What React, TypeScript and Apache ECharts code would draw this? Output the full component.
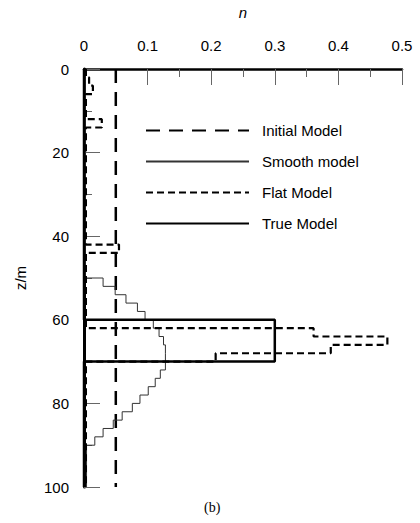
import React, { useEffect, useRef } from "react";
import * as echarts from "echarts";

// Refractive-index style profiles n(z): each model is a stack of layers,
// given as layer top depths (m) and the value of n inside that layer.
const DEPTH_MAX = 100;

const initialTops = [0];
const initialN = [0.05];

const smoothTops = [0, 50, 52, 54, 56, 58, 60, 62, 64, 66, 68, 70, 72, 74, 76, 78, 80, 82, 84, 86, 88, 90];
const smoothN = [0.002, 0.03, 0.049, 0.066, 0.084, 0.096, 0.109, 0.118, 0.125, 0.128, 0.128, 0.128, 0.12, 0.112, 0.101, 0.088, 0.076, 0.06, 0.046, 0.03, 0.017, 0.004];

const flatTops = [0, 2, 4, 6, 12, 14, 42, 44, 62, 64, 66, 68, 70];
const flatN = [0.003, 0.008, 0.014, 0.003, 0.028, 0.003, 0.055, 0.003, 0.361, 0.477, 0.388, 0.207, 0.003];

const trueTops = [0, 60, 70];
const trueN = [0, 0.3, 0];

const xTicks = [0, 0.5];
const yTicks = [0, DEPTH_MAX];

const legendNames = ["Initial Model", "Smooth model", "Flat Model", "True Model"];

// Turn a layer stack into the corner points of a staircase profile.
function layersToPath(tops: number[], values: number[]): number[][] {
  const pts: number[][] = [];
  for (let i = 0; i < tops.length; i++) {
    const bottom = i + 1 < tops.length ? tops[i + 1] : DEPTH_MAX;
    pts.push([values[i], tops[i]]);
    pts.push([values[i], bottom]);
  }
  return pts;
}

const FONT = "'Liberation Sans', Arial, sans-serif";

export default function App() {
  const ref = useRef<HTMLDivElement>(null);

  useEffect(() => {
    if (!ref.current) return;
    const chart = echarts.init(ref.current, undefined, { renderer: "svg" });

    const lineSeries = (name: string, data: number[][], lineStyle: any, z: number) => ({
      name,
      type: "line",
      data,
      symbol: "none",
      showSymbol: false,
      itemStyle: { color: lineStyle.color },
      lineStyle,
      z,
      clip: false,
    });

    chart.setOption({
      animation: false,
      backgroundColor: "#ffffff",
      grid: { left: 84, top: 61, width: 318, height: 426, containLabel: false },
      xAxis: {
        type: "value",
        position: "top",
        min: xTicks[0],
        max: xTicks[1],
        interval: 0.1,
        name: "n",
        nameLocation: "middle",
        nameGap: 49,
        nameTextStyle: { fontFamily: FONT, fontSize: 15, fontStyle: "italic", color: "#000" },
        axisLine: { show: true, onZero: false, lineStyle: { color: "#000", width: 2.5 } },
        axisTick: { show: true, inside: true, length: 16, lineStyle: { color: "#666", width: 1 } },
        minorTick: { show: true, splitNumber: 2, length: 8, lineStyle: { color: "#666", width: 1 } },
        axisLabel: { fontFamily: FONT, fontSize: 15, color: "#000", margin: 16 },
        splitLine: { show: false },
      },
      yAxis: {
        type: "value",
        inverse: true,
        min: yTicks[0],
        max: yTicks[1],
        interval: 20,
        name: "z/m",
        nameLocation: "middle",
        nameGap: 56,
        nameRotate: 90,
        nameTextStyle: { fontFamily: FONT, fontSize: 15, color: "#000" },
        axisLine: { show: true, onZero: false, lineStyle: { color: "#000", width: 3 } },
        axisTick: { show: true, inside: true, length: 16, lineStyle: { color: "#666", width: 1 } },
        minorTick: { show: true, splitNumber: 2, length: 8, lineStyle: { color: "#666", width: 1 } },
        axisLabel: { fontFamily: FONT, fontSize: 15, color: "#000", margin: 15 },
        splitLine: { show: false },
      },
      legend: {
        data: legendNames,
        orient: "vertical",
        left: 145,
        top: 123,
        itemWidth: 103,
        itemHeight: 14,
        itemGap: 16,
        padding: 0,
        itemStyle: { opacity: 0 },
        textStyle: { fontFamily: FONT, fontSize: 15, color: "#000", padding: [0, 0, 0, 8] },
      },
      series: [
        lineSeries(legendNames[0], layersToPath(initialTops, initialN), { color: "#000", width: 2.5, type: [14, 9] }, 2),
        lineSeries(legendNames[1], layersToPath(smoothTops, smoothN), { color: "#333", width: 1 }, 3),
        lineSeries(legendNames[2], layersToPath(flatTops, flatN), { color: "#000", width: 2.2, type: [7, 4] }, 4),
        lineSeries(legendNames[3], layersToPath(trueTops, trueN), { color: "#000", width: 2.5 }, 5),
      ],
      graphic: [
        {
          type: "text",
          left: 204,
          top: 500,
          style: { text: "(b)", fontFamily: "'Liberation Serif', 'Times New Roman', serif", fontSize: 14, fill: "#000" },
        },
      ],
    });

    return () => chart.dispose();
  }, []);

  return <div ref={ref} style={{ position: "fixed", left: 0, top: 0, width: 420, height: 523 }} />;
}
